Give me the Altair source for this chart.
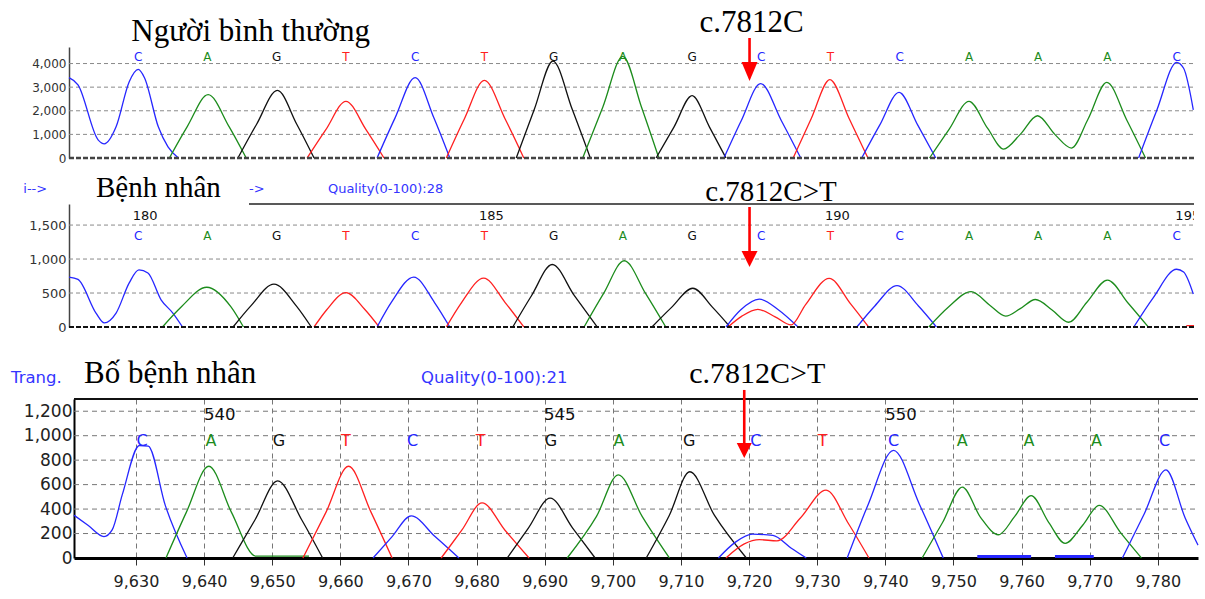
import altair as alt
import pandas as pd

# ---------------- values ----------------
SEQ = ["C", "A", "G", "T", "C", "T", "G", "A", "G", "C", "T", "C", "A", "A", "A", "C"]
BASES = ["C", "A", "G", "T"]
BASE_COLORS = ["#2626ff", "#1c8c1c", "#111111", "#ff2020"]
RED = "#ff0000"
QBLUE = "#3535ff"

# Panel 1 - Người bình thường (x = base position, y = signal)
P1_LETTER_X = [180, 181, 182, 183, 184, 185, 186, 187, 188, 189, 190, 191, 192, 193, 194, 195]
P1_Y_TICKS = [0, 1000, 2000, 3000, 4000]
P1_TRACES = [
    ("C", [179.0, 179.13, 179.42, 179.51, 179.68, 179.87, 180.0, 180.09, 180.29, 180.43, 180.58],
          [3400, 3100, 770, 600, 1320, 3230, 3750, 3400, 1320, 470, 0]),
    ("A", [180.45, 180.71, 181.01, 181.31, 181.56], [0, 1340, 2680, 1340, 0]),
    ("G", [181.44, 181.71, 182.01, 182.29, 182.54], [0, 1430, 2860, 1430, 0]),
    ("T", [182.44, 182.71, 183.0, 183.29, 183.55], [0, 1200, 2400, 1200, 0]),
    ("C", [183.45, 183.71, 184.0, 184.27, 184.5], [0, 1700, 3400, 1700, 0]),
    ("T", [184.45, 184.71, 185.0, 185.3, 185.57], [0, 1650, 3290, 1650, 0]),
    ("G", [185.46, 185.72, 185.99, 186.27, 186.53], [0, 2050, 4100, 2050, 0]),
    ("A", [186.42, 186.71, 187.0, 187.27, 187.52], [0, 2150, 4300, 2150, 0]),
    ("G", [187.48, 187.74, 188.0, 188.25, 188.49], [0, 1320, 2640, 1320, 0]),
    ("C", [188.46, 188.71, 188.99, 189.29, 189.57], [0, 1580, 3150, 1580, 0]),
    ("T", [189.46, 189.72, 189.99, 190.27, 190.54], [0, 1660, 3320, 1660, 0]),
    ("C", [190.45, 190.71, 190.99, 191.26, 191.52], [0, 1390, 2780, 1390, 0]),
    ("A", [191.43, 191.71, 192.0, 192.27, 192.5, 192.74, 192.99, 193.24, 193.48, 193.72, 193.99, 194.28, 194.55],
          [0, 1200, 2400, 1250, 380, 1000, 1790, 1000, 420, 1650, 3200, 1600, 0]),
    ("C", [194.45, 194.71, 195.0, 195.1, 195.24], [0, 2000, 4050, 3800, 2040]),
]

# Panel 2 - Bệnh nhân
P2_LETTER_X = [180, 181, 182, 183, 184, 185, 186, 187, 188, 189, 190, 191, 192, 193, 194, 195]
P2_Y_TICKS = [0, 500, 1000, 1500]
P2_NUM_TEXT = ["180", "185", "190", "195"]
P2_NUM_X = [180.1, 185.1, 190.1, 195.16]
P2_TRACES = [
    ("C", [179.0, 179.13, 179.39, 179.51, 179.68, 179.87, 180.01, 180.14, 180.33, 180.5, 180.64],
          [735, 700, 205, 60, 205, 650, 840, 795, 400, 205, 0]),
    ("A", [180.35, 180.62, 180.99, 181.34, 181.52], [0, 295, 585, 295, 0]),
    ("G", [181.37, 181.63, 181.96, 182.28, 182.5], [0, 315, 630, 315, 0]),
    ("T", [182.54, 182.72, 183.0, 183.28, 183.48], [0, 250, 505, 250, 0]),
    ("C", [183.45, 183.66, 183.98, 184.28, 184.5], [0, 370, 735, 360, 0]),
    ("T", [184.45, 184.67, 184.99, 185.3, 185.57], [0, 360, 720, 360, 0]),
    ("G", [185.41, 185.68, 185.98, 186.3, 186.63], [0, 460, 920, 460, 0]),
    ("A", [186.44, 186.72, 187.02, 187.33, 187.62], [0, 490, 975, 490, 0]),
    ("G", [187.42, 187.7, 188.01, 188.3, 188.55], [0, 285, 570, 285, 0]),
    ("C", [188.49, 188.7, 188.97, 189.25, 189.53], [0, 250, 410, 250, 0]),
    ("T", [188.52, 188.72, 188.95, 189.2, 189.43, 189.64, 189.98, 190.29, 190.55],
          [0, 160, 260, 150, 30, 330, 715, 340, 0]),
    ("C", [190.38, 190.64, 190.96, 191.27, 191.53], [0, 310, 610, 310, 0]),
    ("A", [191.42, 191.7, 192.03, 192.3, 192.53, 192.74, 192.96, 193.2, 193.44, 193.7, 194.0, 194.3, 194.59],
          [0, 290, 520, 320, 160, 270, 405, 250, 70, 360, 690, 350, 0]),
    ("C", [194.38, 194.66, 195.0, 195.1, 195.24], [0, 430, 850, 810, 485]),
    ("T", [195.14, 195.25], [20, 20]),
]

# Panel 3 - Bố bệnh nhân (x = scan number)
P3_LETTER_X = [9630.9, 9641.0, 9651.0, 9660.8, 9670.6, 9680.6, 9690.9, 9700.9,
               9711.2, 9721.0, 9730.8, 9741.2, 9751.3, 9761.1, 9771.0, 9781.0]
P3_NUM_TEXT = ["540", "545", "550"]
P3_NUM_X = [9642.3, 9692.2, 9742.3]
P3_X_TICKS = [9630, 9640, 9650, 9660, 9670, 9680, 9690, 9700,
              9710, 9720, 9730, 9740, 9750, 9760, 9770, 9780]
P3_Y_TICKS = [0, 200, 400, 600, 800, 1000, 1200]
P3_TRACES = [
    ("C", [9620.9, 9623.0, 9625.3, 9626.5, 9628.0, 9630.5, 9631.8, 9634.3, 9637.5],
          [350, 265, 175, 230, 520, 920, 915, 430, 0]),
    ("A", [9634.4, 9637.4, 9640.7, 9644.0, 9647.6, 9650.0, 9655.4], [0, 375, 750, 375, 15, 15, 15]),
    ("G", [9644.2, 9647.5, 9650.8, 9654.3, 9657.4], [0, 315, 630, 315, 0]),
    ("T", [9654.5, 9657.9, 9661.2, 9664.5, 9667.6], [0, 375, 750, 375, 0]),
    ("C", [9664.8, 9667.6, 9670.4, 9673.9, 9677.4], [0, 175, 345, 175, 0]),
    ("T", [9674.8, 9677.8, 9680.8, 9684.2, 9687.7], [0, 225, 450, 225, 0]),
    ("G", [9684.5, 9687.6, 9690.8, 9694.1, 9697.4], [0, 245, 490, 245, 0]),
    ("A", [9693.3, 9697.6, 9700.8, 9704.3, 9708.3], [0, 340, 680, 340, 0]),
    ("G", [9704.9, 9708.3, 9711.3, 9714.9, 9719.6], [0, 350, 705, 350, 0]),
    ("C", [9715.5, 9718.0, 9720.5, 9723.5, 9726.2, 9728.4], [0, 130, 195, 185, 80, 0]),
    ("T", [9716.6, 9719.3, 9721.5, 9724.1, 9727.5, 9731.3, 9734.6, 9737.6],
          [0, 115, 150, 140, 325, 555, 280, 0]),
    ("C", [9734.4, 9737.5, 9741.2, 9745.0, 9748.5], [0, 440, 880, 440, 0]),
    ("A", [9745.4, 9748.4, 9751.3, 9754.0, 9756.6, 9759.0, 9761.4, 9764.0, 9766.4, 9769.0, 9771.4, 9774.5, 9777.6],
          [0, 290, 580, 330, 190, 340, 510, 290, 120, 270, 430, 210, 0]),
    ("C", [9774.8, 9778.0, 9781.2, 9784.0, 9785.9], [0, 360, 720, 330, 105]),
]
P3_FLAT_START = [9753.5, 9764.9]
P3_FLAT_END = [9761.4, 9770.6]

# ---------------- scales & axes ----------------
X12 = alt.Scale(domain=[179.0, 195.25], nice=False, zero=False)
Y1 = alt.Scale(domain=[0, 4700], nice=False, zero=False)
Y2 = alt.Scale(domain=[0, 1810], nice=False, zero=False)
X3 = alt.Scale(domain=[9620.9, 9785.9], range=[5, 1129], nice=False, zero=False)
Y3 = alt.Scale(domain=[0, 1300], nice=False, zero=False)
COLOR = alt.Color("base:N", scale=alt.Scale(domain=BASES, range=BASE_COLORS), legend=None)
SANS = "DejaVu Sans"
SERIF = "Liberation Serif"


def y_axis(values, size, pad):
    return alt.Axis(values=values, format=",d", grid=False, ticks=False, domainColor="#444",
                    domainWidth=1.5, labelFont=SANS, labelFontSize=size, labelColor="#333",
                    labelPadding=pad)


AX1 = None
AY1 = y_axis(P1_Y_TICKS, 12, 3)
AX2 = None
AY2 = y_axis(P2_Y_TICKS, 13, 3)
AX3 = alt.Axis(values=P3_X_TICKS, format=",d", grid=True, gridDash=[5, 4], gridColor="#777",
               gridWidth=1, ticks=True, tickSize=7, tickColor="#333", domainColor="#000",
               domainWidth=3, labelFont=SANS, labelFontSize=16, labelColor="#222", labelPadding=8)
AY3 = alt.Axis(values=P3_Y_TICKS, format=",d", grid=False, ticks=False, offset=-5,
               domainColor="#000", domainWidth=2, labelFont=SANS, labelFontSize=17,
               labelColor="#222", labelPadding=2)


class Panel:
    def __init__(self, xs, ys, ax, ay):
        self.xs, self.ys, self.ax, self.ay = xs, ys, ax, ay

    def X(self, field="x:Q"):
        return alt.X(field, scale=self.xs, axis=self.ax, title=None)

    def Y(self, field="y:Q"):
        return alt.Y(field, scale=self.ys, axis=self.ay, title=None)

    def enc(self):
        return dict(x=self.X(), y=self.Y())

    def traces(self, traces, width=1.3):
        rows = []
        for i, (b, xs, ys) in enumerate(traces):
            for k, (x, y) in enumerate(zip(xs, ys)):
                rows.append({"seg": i, "base": b, "x": x, "y": y, "k": k})
        return alt.Chart(pd.DataFrame(rows)).mark_line(interpolate="monotone", strokeWidth=width).encode(
            **self.enc(), color=COLOR, detail="seg:N", order="k:Q")

    def letters(self, xvals, yval, size):
        df = pd.DataFrame({"x": xvals, "y": [yval] * len(xvals), "base": SEQ, "t": SEQ})
        return alt.Chart(df).mark_text(font=SANS, fontSize=size, baseline="middle").encode(
            **self.enc(), text="t:N", color=COLOR)

    def nums(self, xvals, texts, yval, size):
        df = pd.DataFrame({"x": xvals, "y": [yval] * len(xvals), "t": texts})
        return alt.Chart(df).mark_text(font=SANS, fontSize=size, baseline="middle", color="#111",
                                       clip=True).encode(**self.enc(), text="t:N")

    def note(self, x, y, text, **mark):
        df = pd.DataFrame({"x": [x], "y": [y], "t": [text]})
        return alt.Chart(df).mark_text(**mark).encode(**self.enc(), text="t:N")

    def hrule(self, yvals, x0=None, x1=None, **mark):
        x0 = self.xs.domain[0] if x0 is None else x0
        x1 = self.xs.domain[1] if x1 is None else x1
        df = pd.DataFrame({"x": [x0] * len(yvals), "x2": [x1] * len(yvals), "y": yvals})
        return alt.Chart(df).mark_rule(**mark).encode(**self.enc(), x2="x2:Q")

    def segs(self, x0s, x1s, yvals, **mark):
        df = pd.DataFrame({"x": x0s, "x2": x1s, "y": yvals})
        return alt.Chart(df).mark_rule(**mark).encode(**self.enc(), x2="x2:Q")

    def arrow(self, x, y_top, y_head, size, shape):
        shaft = alt.Chart(pd.DataFrame({"x": [x], "y": [y_top], "y2": [y_head]})).mark_rule(
            color=RED, strokeWidth=2.6).encode(**self.enc(), y2="y2:Q")
        head = alt.Chart(pd.DataFrame({"x": [x], "y": [y_head]})).mark_point(
            shape=shape, size=size, filled=True, color=RED, opacity=1, strokeWidth=0).encode(**self.enc())
        return [shaft, head]


# ---------------- panel 1 ----------------
A = Panel(X12, Y1, AX1, AY1)
p1 = alt.layer(
    A.hrule(P1_Y_TICKS[1:], color="#8a8a8a", strokeWidth=1, strokeDash=[4, 3]),
    A.traces(P1_TRACES),
    A.hrule([0], color="#444", strokeWidth=2.5, strokeDash=[5, 2]),
    A.letters(P1_LETTER_X, 4277, 12),
    A.note(179.9, 4954, "Người bình thường", font=SERIF, fontSize=31, align="left",
           baseline="alphabetic", color="#000"),
    A.note(188.86, 5335, "c.7812C", font=SERIF, fontSize=31, align="center",
           baseline="alphabetic", color="#000"),
    *A.arrow(188.83, 5081, 3663, 361, "M-0.84,-1L0.84,-1L0,1Z"),
).properties(width=1125, height=111)

# ---------------- panel 2 ----------------
B = Panel(X12, Y2, AX2, AY2)
p2 = alt.layer(
    B.hrule(P2_Y_TICKS[1:], color="#8a8a8a", strokeWidth=1, strokeDash=[4, 3]),
    B.traces(P2_TRACES),
    B.hrule([0], color="#111", strokeWidth=2, strokeDash=[5, 2]),
    B.hrule([1810], x0=181.6, color="#222", strokeWidth=1.5),
    B.letters(P2_LETTER_X, 1339, 12),
    B.nums(P2_NUM_X, P2_NUM_TEXT, 1633, 13),
    B.note(178.34, 1972, "i-->", font=SANS, fontSize=13, align="left", baseline="alphabetic", color=QBLUE),
    B.note(181.6, 1972, "->", font=SANS, fontSize=13, align="left", baseline="alphabetic", color=QBLUE),
    B.note(182.74, 1972, "Quality(0-100):28", font=SANS, fontSize=13, align="left",
           baseline="alphabetic", color=QBLUE),
    B.note(179.39, 1913, "Bệnh nhân", font=SERIF, fontSize=29, align="left",
           baseline="alphabetic", color="#000"),
    B.note(189.14, 1854, "c.7812C>T", font=SERIF, fontSize=29, align="center",
           baseline="alphabetic", color="#000"),
    *B.arrow(188.83, 1766, 1001, 256, "M-1,-1L1,-1L0,1Z"),
).properties(width=1125, height=123)

# ---------------- panel 3 ----------------
C = Panel(X3, Y3, AX3, AY3)
p3 = alt.layer(
    C.hrule(P3_Y_TICKS[1:], color="#777", strokeWidth=1, strokeDash=[5, 4]),
    C.traces(P3_TRACES),
    C.segs(P3_FLAT_START, P3_FLAT_END, [12, 12], color=BASE_COLORS[0], strokeWidth=3),
    C.hrule([1300], color="#111", strokeWidth=2),
    C.letters(P3_LETTER_X, 957, 16),
    C.nums(P3_NUM_X, P3_NUM_TEXT, 1169, 16.5),
    C.note(9611.65, 1431, "Trang.", font=SANS, fontSize=16.5, align="left", baseline="alphabetic",
           color=QBLUE),
    C.note(9671.85, 1431, "Quality(0-100):21", font=SANS, fontSize=16.5, align="left",
           baseline="alphabetic", color=QBLUE),
    C.note(9622.37, 1431, "Bố bệnh nhân", font=SERIF, fontSize=31, align="left",
           baseline="alphabetic", color="#000"),
    C.note(9721.19, 1431, "c.7812C>T", font=SERIF, fontSize=30, align="center",
           baseline="alphabetic", color="#000"),
    *C.arrow(9719.29, 1374, 879, 225, "M-1,-1L1,-1L0,1Z"),
).properties(width=1129, height=159)


def spacer(h):
    return alt.Chart(pd.DataFrame({"v": [0]})).mark_point(opacity=0).properties(width=1, height=h)


chart = alt.vconcat(p1, spacer(46), p2, spacer(72), p3, spacing=0, bounds="flush").properties(
    padding={"left": 10, "top": 7, "right": 4, "bottom": 4}
).configure_view(stroke=None)

chart.save("out.html", embed_options={"renderer": "svg", "actions": False})
